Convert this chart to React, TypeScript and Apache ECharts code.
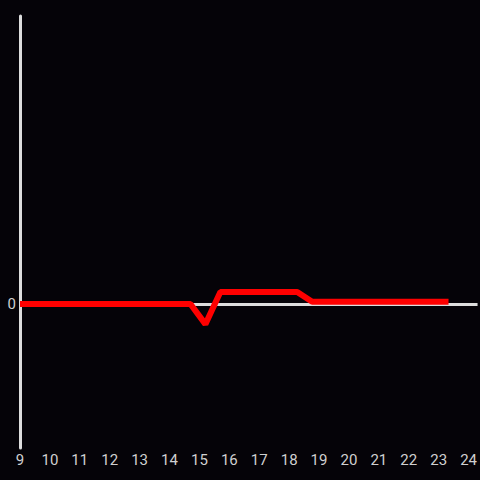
import React, { useEffect, useRef } from "react";
import * as echarts from "echarts";

const hours = [9, 14.7, 15.2, 15.7, 18.27, 18.77, 23.33];
const values = [0, 0, -14, 8.3, 8.3, 1.5, 1.5];
const xTicks = [9, 24];
const yRange = [-100, 200];

export default function App() {
  const ref = useRef<HTMLDivElement>(null);
  useEffect(() => {
    document.body.style.margin = "0";
    document.body.style.background = "#050308";
    const chart = echarts.init(ref.current!, null, { renderer: "svg" });
    chart.setOption({
      animation: false,
      backgroundColor: "#050308",
      grid: { left: 20, right: 0, top: 16, bottom: 32 },
      xAxis: {
        type: "value",
        min: xTicks[0],
        max: 24.3,
        interval: 1,
        axisLine: { show: false, onZero: false },
        axisTick: { show: false },
        splitLine: { show: false },
        axisLabel: {
          color: "#d0d0d0",
          fontSize: 15,
          fontFamily: "Roboto",
          margin: 4,
          showMaxLabel: false,
          formatter: (v: number) => (Number.isInteger(v) && v <= xTicks[1] ? String(v) : ""),
        },
      },
      yAxis: {
        type: "value",
        min: yRange[0],
        max: yRange[1],
        interval: 100,
        axisLine: { show: true, lineStyle: { color: "#dddddd", width: 3 } },
        axisTick: { show: false },
        splitLine: { show: false },
        axisLabel: {
          color: "#d0d0d0",
          fontSize: 15,
          fontFamily: "Roboto",
          margin: 4,
          formatter: (v: number) => (v === 0 ? "0" : ""),
        },
      },
      series: [
        {
          type: "line",
          data: [],
          z: 1,
          markLine: {
            silent: true,
            symbol: "none",
            label: { show: false },
            lineStyle: { color: "#dddddd", width: 3, type: "solid" },
            data: [{ yAxis: 0 }],
          },
        },
        {
          type: "line",
          z: 5,
          data: hours.map((h, i) => [h, values[i]]),
          showSymbol: false,
          lineStyle: { color: "#ff0000", width: 6 },
          itemStyle: { color: "#ff0000" },
        },
      ],
    });
    return () => chart.dispose();
  }, []);
  return (
    <div
      ref={ref}
      style={{ position: "fixed", left: 0, top: 0, width: 480, height: 480 }}
    />
  );
}
